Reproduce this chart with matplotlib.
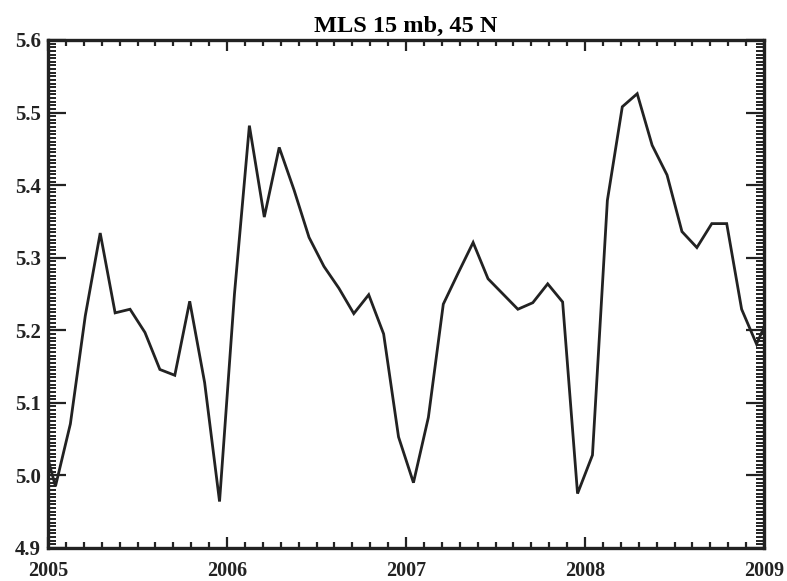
import numpy as np
import matplotlib
matplotlib.use("Agg")
import matplotlib.pyplot as plt
from matplotlib.ticker import MultipleLocator, FormatStrFormatter

# monthly means, Dec 2004 .. Jan 2009 (mid-month)
first_month = 2004 + 11.5 / 12
ozone = [5.06,
         4.985, 5.071, 5.22, 5.334, 5.224, 5.229, 5.197, 5.146, 5.138, 5.240, 5.128, 4.964,
         5.25, 5.482, 5.356, 5.452, 5.393, 5.328, 5.288, 5.258, 5.223, 5.249, 5.195, 5.053,
         4.99, 5.080, 5.236, 5.279, 5.321, 5.271, 5.250, 5.229, 5.238, 5.264, 5.239, 4.975,
         5.028, 5.379, 5.508, 5.526, 5.455, 5.414, 5.336, 5.314, 5.347, 5.347, 5.229, 5.181,
         5.227]
years = [2005, 2006, 2007, 2008, 2009]
title = "MLS 15 mb, 45 N"

t = first_month + np.arange(len(ozone)) / 12.0

plt.rcParams['font.family'] = ['Liberation Serif', 'DejaVu Serif']
plt.rcParams['font.weight'] = 'bold'

fig = plt.figure(figsize=(7.87, 5.81), dpi=100)
ax = fig.add_axes([48 / 787, 1 - 548 / 581, (764 - 48) / 787, (548 - 40) / 581])

ax.plot(t, ozone, color='#222222', lw=2.0, solid_joinstyle='miter')

ax.set_xlim(2005, 2009)
ax.set_ylim(4.9, 5.6)
ax.set_xticks(years)
ax.set_xticklabels([str(y) for y in years])
ax.xaxis.set_minor_locator(MultipleLocator(0.1))
ax.yaxis.set_major_locator(MultipleLocator(0.1))
ax.yaxis.set_minor_locator(MultipleLocator(0.005))
ax.yaxis.set_major_formatter(FormatStrFormatter('%.1f'))

ax.tick_params(which='both', direction='in', top=True, right=True, colors='#222222')
ax.tick_params(axis='x', which='major', length=8, width=1.6, pad=9, labelsize=14.5)
ax.tick_params(axis='x', which='minor', length=4, width=1.6)
ax.tick_params(axis='y', which='major', length=13, width=1.6, pad=5, labelsize=15)
ax.tick_params(axis='y', which='minor', length=6, width=1.4)
for lab in ax.get_xticklabels() + ax.get_yticklabels():
    lab.set_fontweight('bold')

for s in ax.spines.values():
    s.set_linewidth(2.4)
    s.set_color('#222222')

ax.set_title(title, fontsize=17.5, fontweight='bold', pad=6)

fig.savefig("out.png", dpi=100)
